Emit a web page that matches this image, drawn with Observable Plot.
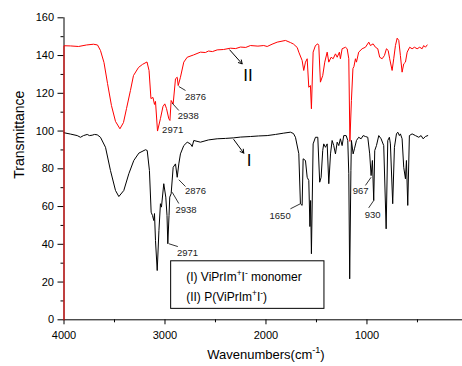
<!DOCTYPE html>
<html><head><meta charset="utf-8">
<script src="https://cdn.jsdelivr.net/npm/d3@7"></script>
<script src="https://cdn.jsdelivr.net/npm/@observablehq/plot@0.6"></script>
<style>html,body{margin:0;padding:0;background:#fff;}</style>
</head><body><div id="chart"></div>
<script>
// Spectrum (I): ViPrIm+I- monomer  [wavenumber, transmittance]
const spectrumI = [
[4000,99.1],[3936,98.4],[3869,97.6],[3837,96.7],[3807,97.6],[3770,98.2],[3748,97.6],[3721,97.8],[3698,98.2],[3671,98.0],
[3639,96.7],[3589,91.4],[3540,79.1],[3490,68.5],[3457,65.3],[3408,68.5],[3358,77.4],[3309,84.4],[3259,88.3],[3193,90.1],
[3176,89.7],[3154,79.1],[3137,57.0],[3124,55.3],[3111,52.6],[3104,56.3],[3094,42.0],[3077,26.1],[3060,47.3],[3045,61.5],
[3035,59.7],[3012,72.1],[2992,65.0],[2980,55.3],[2972,40.3],[2960,55.3],[2953,65.0],[2939,66.8],[2919,80.8],[2896,82.6],
[2879,75.5],[2863,82.6],[2847,87.9],[2814,92.3],[2780,94.1],[2748,93.2],[2731,91.8],[2715,95.0],[2649,94.1],[2569,95.3],
[2483,95.9],[2401,96.1],[2319,96.4],[2253,96.8],[2154,97.1],[2074,97.4],[1988,97.6],[1906,98.2],[1824,98.9],[1758,99.4],
[1728,98.7],[1708,96.7],[1675,88.0],[1659,61.5],[1642,60.6],[1632,85.3],[1609,84.4],[1592,75.5],[1576,73.8],[1565,49.4],
[1558,63.2],[1550,35.0],[1533,93.2],[1510,96.7],[1487,96.7],[1468,72.9],[1454,75.5],[1438,89.7],[1428,93.2],[1411,91.4],
[1394,93.2],[1378,72.1],[1361,87.9],[1345,95.0],[1329,92.3],[1312,87.9],[1295,94.1],[1279,92.3],[1263,95.9],[1246,92.3],
[1230,97.6],[1206,97.6],[1190,95.0],[1180,77.4],[1171,21.7],[1159,79.1],[1154,95.0],[1137,87.9],[1124,90.6],[1104,95.0],
[1082,96.7],[1058,95.9],[1038,97.6],[1015,97.1],[992,96.7],[973,87.9],[959,76.4],[946,84.4],[933,63.2],[923,89.7],
[906,92.3],[883,97.6],[860,95.9],[834,92.3],[810,48.2],[794,95.0],[778,96.7],[768,93.2],[745,61.5],[728,91.4],
[708,98.5],[695,99.4],[679,97.6],[669,98.5],[652,95.9],[636,80.8],[619,74.7],[609,84.4],[596,60.6],[580,97.6],
[553,98.5],[520,97.6],[487,96.7],[464,97.6],[444,95.9],[421,97.1],[398,97.6]
];
// Spectrum (II): P(ViPrIm+I-)
const spectrumII = [
[4000,0],[4000,145.2],[3936,145.1],[3856,144.8],[3777,145.6],[3708,146.0],[3668,145.6],[3639,142.7],[3604,136.3],[3569,125.2],
[3530,113.5],[3490,105.1],[3446,101.2],[3411,104.5],[3381,111.9],[3342,121.5],[3312,129.4],[3262,133.7],[3223,135.3],[3178,136.6],
[3158,132.1],[3139,117.2],[3119,117.8],[3104,114.1],[3094,115.7],[3074,100.0],[3045,106.6],[3020,113.0],[3002,114.4],[2985,111.9],
[2962,106.5],[2951,105.6],[2939,116.2],[2919,114.4],[2896,127.7],[2879,128.5],[2869,124.1],[2847,128.5],[2814,136.5],[2780,139.1],
[2718,140.3],[2649,141.8],[2600,141.6],[2569,142.4],[2530,142.1],[2483,143.0],[2420,143.2],[2352,143.9],[2300,143.7],[2253,144.5],
[2200,144.3],[2154,145.3],[2080,145.0],[2022,145.3],[1988,144.8],[1940,146.0],[1889,147.1],[1807,148.0],[1758,146.9],[1728,146.1],
[1691,144.3],[1675,141.8],[1642,137.4],[1626,132.1],[1609,136.5],[1592,138.3],[1576,123.2],[1560,124.1],[1550,111.8],[1533,141.8],
[1510,145.3],[1487,146.2],[1477,145.3],[1461,125.9],[1438,129.4],[1418,136.5],[1394,141.8],[1378,136.5],[1355,139.1],[1335,138.3],
[1312,140.9],[1295,139.1],[1273,141.8],[1263,138.3],[1246,143.6],[1213,144.4],[1196,143.6],[1180,138.3],[1169,94.5],[1154,116.2],
[1139,133.1],[1129,134.2],[1114,138.3],[1104,136.5],[1082,141.8],[1048,143.6],[1015,144.4],[982,147.1],[966,145.3],[939,146.2],
[916,144.4],[893,143.6],[874,139.1],[850,138.3],[827,140.0],[807,143.6],[790,142.7],[775,138.3],[751,132.1],[735,138.3],
[718,145.3],[701,149.2],[685,148.0],[669,140.0],[652,131.2],[636,135.6],[619,136.5],[602,141.8],[577,144.4],[553,143.6],
[530,144.4],[503,143.6],[478,144.4],[454,143.6],[438,145.3],[421,144.4],[404,145.6]
];
const xTicks = [4000, 3000, 2000, 1000];
const xMinorTicks = [3500, 2500, 1500, 500];
const yTicks = [0, 20, 40, 60, 80, 100, 120, 140, 160];
const yMinorTicks = [10, 30, 50, 70, 90, 110, 130, 150];

// peak annotations (data coordinates)
const peakLabels = [
  {text: "2876", wn: 2698, t: 118.3}, {text: "2938", wn: 2769, t: 108.2}, {text: "2971", wn: 2924, t: 100.7},
  {text: "2876", wn: 2698, t: 68.1}, {text: "2938", wn: 2792, t: 58.3}, {text: "2971", wn: 2777, t: 35.4},
  {text: "1650", wn: 1860, t: 55.2}, {text: "967", wn: 1062, t: 68.5}, {text: "930", wn: 944, t: 55.3}
];
const leaderLines = [
  {wn1: 2863, t1: 123.6, wn2: 2797, t2: 121.5}, {wn1: 2929, t1: 114.8, wn2: 2863, t2: 110.9},
  {wn1: 2863, t1: 74.2, wn2: 2797, t2: 70.6}, {wn1: 2929, t1: 67.6, wn2: 2863, t2: 61.6},
  {wn1: 2962, t1: 40.3, wn2: 2873, t2: 38.8}, {wn1: 1758, t1: 58.8, wn2: 1659, t2: 61.5},
  {wn1: 1015, t1: 71.2, wn2: 959, t2: 75.5}, {wn1: 983, t1: 59.3, wn2: 933, t2: 63.2}
];
const curveArrows = [
  {wn1: 2359, t1: 143.0, wn2: 2236, t2: 135.6},
  {wn1: 2319, t1: 95.5, wn2: 2220, t2: 88.3}
];
const curveLabels = [{text: "II", wn: 2178, t: 129.6}, {text: "I", wn: 2167, t: 84.4}];
const legendBox = [{wn1: 2939, wn2: 1421, t1: 5.8, t2: 31.0}];
const legendLines = [
  {text: "(I) ViPrIm^{+}I^{-} monomer", wn: 2790, t: 22.6},
  {text: "(II) P(ViPrIm^{+}I^{-})", wn: 2790, t: 12.0}
];
const xTitle = "Wavenumbers(cm^{-1})";
const yTitle = "Transmittance";

const plot = Plot.plot({
  width: 462, height: 366,
  marginLeft: 63.5, marginRight: 0, marginTop: 17.3, marginBottom: 46.7,
  style: {fontFamily: "'Liberation Sans', Arial, sans-serif", fontSize: "11px", color: "#000", background: "#fff", overflow: "visible"},
  x: {domain: [4000, 54], label: null},
  y: {domain: [0, 160], label: null},
  marks: [
    Plot.axisY({ticks: yTicks, tickSize: 6, tickPadding: 4, tickFormat: d => String(d), label: null, fontSize: 11}),
    Plot.axisY({ticks: yMinorTicks, tickSize: 3, text: null, label: null}),
    Plot.axisX({ticks: xTicks, tickSize: 5, tickPadding: 6, tickFormat: d => String(d), label: null, fontSize: 11}),
    Plot.axisX({ticks: xMinorTicks, tickSize: 3, text: null, label: null}),
    Plot.ruleY([0], {stroke: "#000", strokeWidth: 1}),
    Plot.ruleX([4000], {stroke: "#000", strokeWidth: 1}),
    Plot.rect(legendBox, {x1: "wn1", x2: "wn2", y1: "t1", y2: "t2", fill: "#fff", stroke: "#000", strokeWidth: 1}),
    Plot.text(legendLines, {x: "wn", y: "t", text: "text", textAnchor: "start", fontSize: 12, fill: "#000"}),
    Plot.line(spectrumI, {x: d => d[0], y: d => d[1], stroke: "#000", strokeWidth: 1}),
    Plot.line(spectrumII, {x: d => d[0], y: d => d[1], stroke: "#ff0000", strokeWidth: 1}),
    Plot.link(leaderLines, {x1: "wn1", y1: "t1", x2: "wn2", y2: "t2", stroke: "#000", strokeWidth: 0.8}),
    Plot.arrow(curveArrows, {x1: "wn1", y1: "t1", x2: "wn2", y2: "t2", stroke: "#000", strokeWidth: 1, headLength: 6}),
    Plot.text(peakLabels, {x: "wn", y: "t", text: "text", fontSize: 9.5, fill: "#222"}),
    Plot.text(curveLabels, {x: "wn", y: "t", text: "text", fontSize: 17, fill: "#000"}),
    Plot.text([xTitle], {x: [2000], frameAnchor: "bottom", dy: 39, fontSize: 13, fill: "#000"}),
    Plot.text([yTitle], {frameAnchor: "left", dx: -44, dy: 10, rotate: -90, fontSize: 14, fill: "#000"})
  ]
});

function applySuperscripts(svg) {
  svg.querySelectorAll("text").forEach(el => {
    const targets = el.querySelector("tspan") ? Array.from(el.querySelectorAll("tspan")) : [el];
    targets.forEach(node => {
      const s = node.textContent;
      if (!s.includes("^{")) return;
      node.textContent = "";
      const parts = s.split(/(\^\{[^}]*\})/).filter(p => p.length);
      let raised = false;
      parts.forEach(p => {
        const ts = document.createElementNS("http://www.w3.org/2000/svg", "tspan");
        if (p.startsWith("^{")) {
          ts.textContent = p.slice(2, -1);
          ts.setAttribute("font-size", "70%");
          if (!raised) ts.setAttribute("dy", "-0.6em");
          raised = true;
        } else {
          ts.textContent = p;
          if (raised) ts.setAttribute("dy", "0.42em");
          raised = false;
        }
        node.appendChild(ts);
      });
    });
  });
}
applySuperscripts(plot);
document.getElementById("chart").appendChild(plot);
</script>
</body></html>
